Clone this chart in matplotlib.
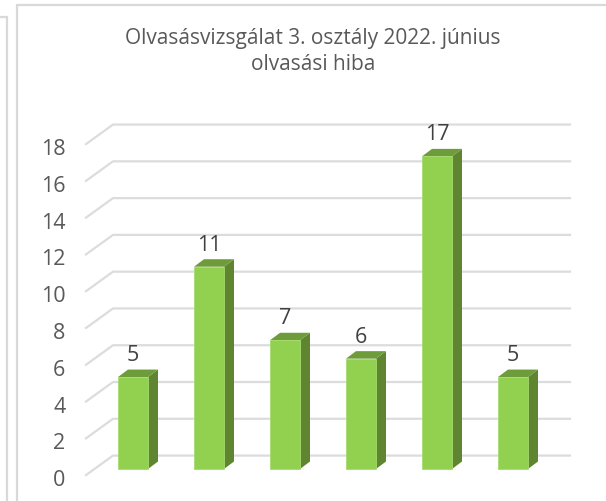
import matplotlib
matplotlib.use("Agg")
import matplotlib.pyplot as plt
from matplotlib.patches import Polygon, Rectangle

title = "Olvasásvizsgálat 3. osztály 2022. június\nolvasási hiba"
values = [5, 11, 7, 6, 17, 5]
y_ticks = [0, 2, 4, 6, 8, 10, 12, 14, 16, 18]

W, H = 606, 502
# pixels of one category / one unit, position of the first bar and of value 0
px_cat = 76.0
px_val = 18.39
x0_px = 133.0
y0_px = 470.0

bar_w = 30 / px_cat
depth_x = 10 / px_cat
depth_y = 7.5 / px_val

plt.rcParams["font.family"] = ["Open Sans", "DejaVu Sans"]

fig = plt.figure(figsize=(W / 100, H / 100), dpi=100)
ax = fig.add_axes([0, 0, 1, 1])
ax.set_xlim(-x0_px / px_cat, (W - x0_px) / px_cat)
ax.set_ylim((y0_px - H) / px_val, y0_px / px_val)
ax.axis("off")

# Outer frames, cut off by the image on the right and at the bottom
frame_kw = dict(transform=None, fill=False, edgecolor="#d9d9d9", linewidth=1.6)
fig.add_artist(Rectangle((16.5, -20), 620, 516, **frame_kw))
fig.add_artist(Rectangle((-20, -20), 27, 504, **frame_kw))

# Gridlines, slanted part on the floor plus the back wall
wall_left = -0.263
floor_left = -0.618
grid_right = 5.75
wall_up = 0.73
floor_down = -0.33
for t in y_ticks:
    ax.plot([floor_left, wall_left, grid_right],
            [t + floor_down, t + wall_up, t + wall_up],
            color="#dcdcdc", lw=1.6, solid_joinstyle="round", zorder=1)
    ax.text(-0.89, t + floor_down - 0.25, str(t), ha="right", va="center",
            fontsize=15.5, color="#595959")

# 3D bars
for i, v in enumerate(values):
    l = i - bar_w / 2
    r = i + bar_w / 2
    ax.add_patch(Polygon([(r, 0), (r + depth_x, depth_y), (r + depth_x, v + depth_y), (r, v)],
                         facecolor="#5f8530", edgecolor="none", zorder=3))
    ax.add_patch(Polygon([(l, v), (l + depth_x, v + depth_y), (r + depth_x, v + depth_y), (r, v)],
                         facecolor="#6f9c3a", edgecolor="none", zorder=3))
    ax.add_patch(Rectangle((l, 0), bar_w, v, facecolor="#92d050", edgecolor="#a5dc6e",
                           linewidth=0.6, zorder=4))
    ax.text(i, v + 0.65, str(v), ha="center", va="bottom", fontsize=15.5, color="#404040", zorder=5)

ax.text(313 / px_cat - x0_px / px_cat, (y0_px - 51.5) / px_val, title, ha="center", va="center",
        fontsize=15, color="#595959", linespacing=1.28)

fig.savefig("out.png", dpi=100)
